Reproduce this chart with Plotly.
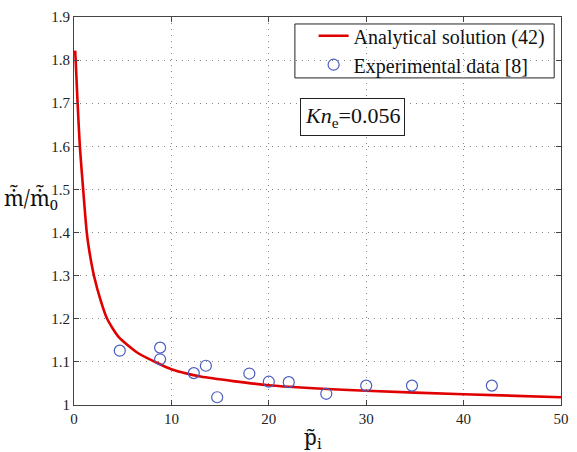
import plotly.graph_objects as go

# Analytical curve
curve_x = [0.12, 0.17, 0.37, 0.6, 0.94, 1.31, 1.61, 2.05, 2.72, 3.4, 4.57, 6.6, 8.5, 10, 13, 20, 30, 40, 50]
curve_y = [1.822, 1.80, 1.70, 1.60, 1.50, 1.40, 1.352, 1.30, 1.244, 1.20, 1.158, 1.12, 1.098, 1.083, 1.066, 1.046, 1.033, 1.025, 1.018]

# Experimental data [8]
exp_x = [4.7, 8.84, 8.84, 12.3, 13.54, 14.7, 18.0, 20.0, 22.05, 25.9, 30.0, 34.7, 42.9]
exp_y = [1.126, 1.133, 1.106, 1.074, 1.091, 1.018, 1.073, 1.054, 1.053, 1.026, 1.045, 1.045, 1.045]

x_ticks = [0, 10, 20, 30, 40, 50]
y_ticks = [1, 1.1, 1.2, 1.3, 1.4, 1.5, 1.6, 1.7, 1.8, 1.9]
y_tick_labels = ["1", "1.1", "1.2", "1.3", "1.4", "1.5", "1.6", "1.7", "1.8", "1.9"]

FONT = "Liberation Serif, Times New Roman, serif"

fig = go.Figure()
fig.add_trace(go.Scatter(
    x=curve_x, y=curve_y, mode="lines", name="Analytical solution (42)",
    line=dict(color="#e00000", width=2.6, shape="spline", smoothing=0.6),
))
fig.add_trace(go.Scatter(
    x=exp_x, y=exp_y, mode="markers", name="Experimental data [8]",
    marker=dict(symbol="circle-open", size=11, color="#4a5cc0", line=dict(width=1.2)),
))

axis_common = dict(
    showline=True, linecolor="#444", linewidth=1.2, mirror="ticks",
    ticks="inside", ticklen=5, tickcolor="#444",
    showgrid=True, gridcolor="#888", griddash="1px,5px", gridwidth=1,
    zeroline=False, ticklabeloverflow="allow",
    tickfont=dict(family=FONT, size=15, color="#222"),
)

fig.update_xaxes(range=[0, 50], tickvals=x_ticks, **axis_common)
fig.update_yaxes(range=[1, 1.9], tickvals=y_ticks, ticktext=y_tick_labels, **axis_common)

fig.update_layout(
    width=577, height=452,
    margin=dict(l=74, r=8, t=17, b=47),
    plot_bgcolor="white", paper_bgcolor="white",
    font=dict(family=FONT, color="#111"),
    showlegend=True,
    legend=dict(
        x=0.492, y=1.002, xanchor="left", yanchor="top",
        borderwidth=0, bgcolor="rgba(0,0,0,0)",
        font=dict(family=FONT, size=20, color="#111"),
        tracegroupgap=0, itemwidth=30,
    ),
    shapes=[
        dict(type="rect", xref="paper", yref="paper",
             x0=0.4536, x1=0.986, y0=0.843, y1=0.982,
             line=dict(color="#222", width=1), fillcolor="white", layer="below"),
    ],
    annotations=[
        dict(text="<i>Kn</i><sub>e</sub>=0.056", xref="paper", yref="paper",
             x=0.572, y=0.741, xanchor="center", yanchor="middle", showarrow=False,
             font=dict(family=FONT, size=22, color="#111"),
             bordercolor="#222", borderwidth=1, borderpad=4, bgcolor="white"),
        dict(text="m\u0307\u0303/m\u0307\u0303<sub>0</sub>", xref="paper", yref="paper",
             x=-0.089, y=0.532, xanchor="center", yanchor="middle", showarrow=False,
             font=dict(family="Noto Serif, serif", size=21, color="#111")),
        dict(text="p\u0303<sub>i</sub>", xref="paper", yref="paper",
             x=0.49, y=-0.04, xanchor="center", yanchor="top", showarrow=False,
             font=dict(family="Noto Serif, serif", size=21, color="#111")),
    ],
)

fig.write_html("out.html", config={"displayModeBar": False},
               post_script="document.body.style.margin='0';document.body.style.overflow='hidden';")
